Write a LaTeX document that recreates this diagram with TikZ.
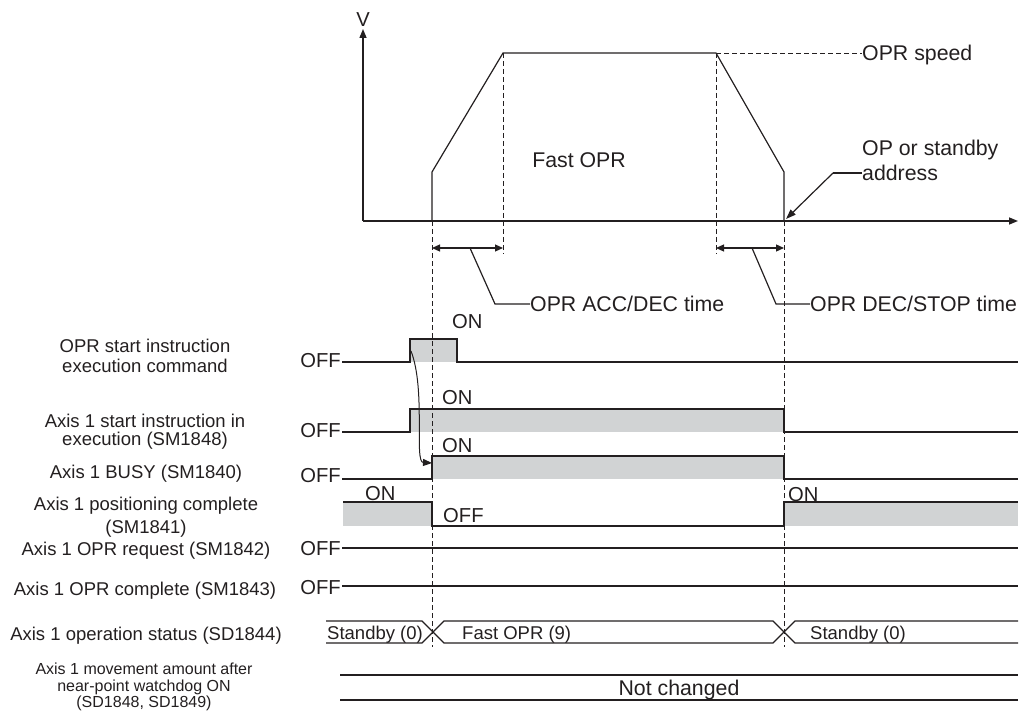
\documentclass[tikz,border=0pt]{standalone}
\usepackage{fontspec}
\setmainfont{Liberation Sans}
\usetikzlibrary{arrows.meta}
\definecolor{linec}{RGB}{35,31,32}
\definecolor{grayf}{RGB}{209,211,212}
\begin{document}
\begin{tikzpicture}[x=1pt,y=-1pt,
  sig/.style={draw=linec,line width=1.2pt},
  axisl/.style={draw=linec,line width=1.4pt},
  vdash/.style={draw=linec,line width=0.9pt,dash pattern=on 5pt off 3pt},
  gfill/.style={fill=grayf,draw=none},
  txt/.style={text=linec,inner sep=0pt,font=\fontsize{18.5}{20}\selectfont},
  btxt/.style={text=linec,inner sep=0pt,font=\fontsize{21.3}{24}\selectfont},
  mtxt/.style={text=linec,inner sep=0pt,font=\fontsize{20.2}{22}\selectfont},
  stxt/.style={text=linec,inner sep=0pt,font=\fontsize{16}{18}\selectfont},
  tri/.style={-{Triangle[length=9pt,width=7pt]}},
  dtri/.style={{Triangle[length=8pt,width=7pt]}-{Triangle[length=8pt,width=7pt]}}
]
\useasboundingbox (0,0) rectangle (1024,711);

% ---------- velocity graph ----------
\coordinate (orig) at (363,221);
\coordinate (vtop) at (363,29);
\coordinate (htip) at (1018,221);
\draw[axisl,tri] (orig) -- (vtop);
\draw[axisl,tri] (orig) -- (htip);
\node[mtxt,anchor=base] (V) at (363,27) {V};

\coordinate (p0) at (432,221);
\coordinate (p1) at (432,172);
\coordinate (p2) at (503,53);
\coordinate (p3) at (716,53);
\coordinate (p4) at (784,172);
\coordinate (p5) at (784,221);
\draw[sig,line join=miter] (p0) -- (p1) -- (p2) -- (p3) -- (p4) -- (p5);

\node[btxt,anchor=base west] (speed) at (862,61) {OPR speed};
\draw[vdash] (p3) -- (speed.west |- p3);
\node[btxt,anchor=base] (fast) at (579,168) {Fast OPR};
\node[btxt,anchor=base west] (op1) at (862,156) {OP or standby};
\node[btxt,anchor=base west] (op2) at (862,181) {address};
\coordinate (opk) at (833,173);
\draw[sig] (op2.west |- opk) -- (opk);
\draw[sig,-{Triangle[length=10pt,width=7pt]}] (opk) -- (786,219);

% dashed verticals
\coordinate (d1b) at (432,647);
\coordinate (d2b) at (503,254);
\coordinate (d3b) at (716,254);
\coordinate (d4b) at (784,647);

% time arrows
\coordinate (a1l) at (432,248);
\coordinate (a1r) at (503,248);
\coordinate (a2l) at (716,248);
\coordinate (a2r) at (784,248);
\draw[sig,dtri] (a1l) -- (a1r);
\draw[sig,dtri] (a2l) -- (a2r);
\node[btxt,anchor=base west] (acc) at (530,311) {OPR ACC/DEC time};
\node[btxt,anchor=base west] (dec) at (810,311) {OPR DEC/STOP time};
\coordinate (l1a) at (470,248);
\coordinate (l1b) at (495,304);
\coordinate (l2a) at (752,248);
\coordinate (l2b) at (776,304);
\draw[sig] (l1a) -- (l1b) -- (acc.west |- l1b);
\draw[sig] (l2a) -- (l2b) -- (dec.west |- l2b);

% ---------- timing chart ----------
% fills
\fill[gfill] (410,339) rectangle (457,362);
\fill[gfill] (410,409) rectangle (784,432);
\fill[gfill] (432,456) rectangle (784,479);
\fill[gfill] (343,502) rectangle (432,526);
\fill[gfill] (784,502) rectangle (1018,526);

% row 1
\draw[sig] (342,362) -- (410,362) -- (410,339) -- (457,339) -- (457,362) -- (1018,362);
% row 2
\draw[sig] (342,432) -- (410,432) -- (410,409) -- (784,409) -- (784,432) -- (1018,432);
% row 3
\draw[sig] (342,479) -- (432,479) -- (432,456) -- (784,456) -- (784,479) -- (1018,479);
% row 4
\draw[sig] (343,502) -- (432,502) -- (432,526) -- (784,526) -- (784,502) -- (1018,502);
% row 5, 6
\draw[sig] (342,548) -- (1018,548);
\draw[sig] (342,586) -- (1018,586);
% status bus
\draw[sig] (326,621) -- (422,621) -- (444,643) -- (773,643) -- (795,621) -- (1018,621);
\draw[sig] (326,643) -- (422,643) -- (444,621) -- (773,621) -- (795,643) -- (1018,643);
% not changed
\draw[sig,line width=1.4pt] (340,675) -- (1018,675);
\draw[sig,line width=1.4pt] (340,700) -- (1018,700);

% dashed lines over chart
\draw[vdash] (p0) -- (d1b);
\draw[vdash] (p5) -- (d4b);
\draw[vdash] (p2) -- (d2b);
\draw[vdash] (p3) -- (d3b);

% curved arrow
\coordinate (cs) at (411,351);
\coordinate (ce) at (432,463);
\draw[sig,line width=1pt,-{Triangle[length=9pt,width=7pt]}] (cs) .. controls (426,390) and (414,462) .. (ce);

% ON / OFF labels
\node[mtxt,anchor=base west] (on1) at (452,328) {ON};
\node[mtxt,anchor=base west] (on2) at (442,404) {ON};
\node[mtxt,anchor=base west] (on3) at (442,452) {ON};
\node[mtxt,anchor=base west] (on4a) at (365,500) {ON};
\node[mtxt,anchor=base west] (off4) at (443,522) {OFF};
\node[mtxt,anchor=base west] (on4b) at (788,501) {ON};
\node[mtxt,anchor=base east] (off1) at (341,367) {OFF};
\node[mtxt,anchor=base east] (off2) at (341,437) {OFF};
\node[mtxt,anchor=base east] (off3) at (341,482) {OFF};
\node[mtxt,anchor=base east] (off5) at (341,555) {OFF};
\node[mtxt,anchor=base east] (off6) at (341,594) {OFF};

% status texts
\node[txt,anchor=base west] (st1) at (327,639) {Standby (0)};
\node[txt,anchor=base west] (st2) at (462,639) {Fast OPR (9)};
\node[txt,anchor=base west] (st3) at (810,639) {Standby (0)};
\node[btxt,anchor=base] (nc) at (679,695) {Not changed};

% left labels
\node[txt,anchor=base] (L1a) at (145,352) {OPR start instruction};
\node[txt,anchor=base] (L1b) at (145,372) {execution command};
\node[txt,anchor=base] (L2a) at (145,427) {Axis 1 start instruction in};
\node[txt,anchor=base] (L2b) at (145,445) {execution (SM1848)};
\node[txt,anchor=base] (L3) at (146,478) {Axis 1 BUSY (SM1840)};
\node[txt,anchor=base] (L4a) at (146,510) {Axis 1 positioning complete};
\node[txt,anchor=base] (L4b) at (146,533) {(SM1841)};
\node[txt,anchor=base] (L5) at (146,555) {Axis 1 OPR request (SM1842)};
\node[txt,anchor=base] (L6) at (145,595) {Axis 1 OPR complete (SM1843)};
\node[txt,anchor=base] (L7) at (146,640) {Axis 1 operation status (SD1844)};
\node[stxt,anchor=base] (L8a) at (144,674) {Axis 1 movement amount after};
\node[stxt,anchor=base] (L8b) at (144,691) {near-point watchdog ON};
\node[stxt,anchor=base] (L8c) at (144,707) {(SD1848, SD1849)};
\end{tikzpicture}
\end{document}
